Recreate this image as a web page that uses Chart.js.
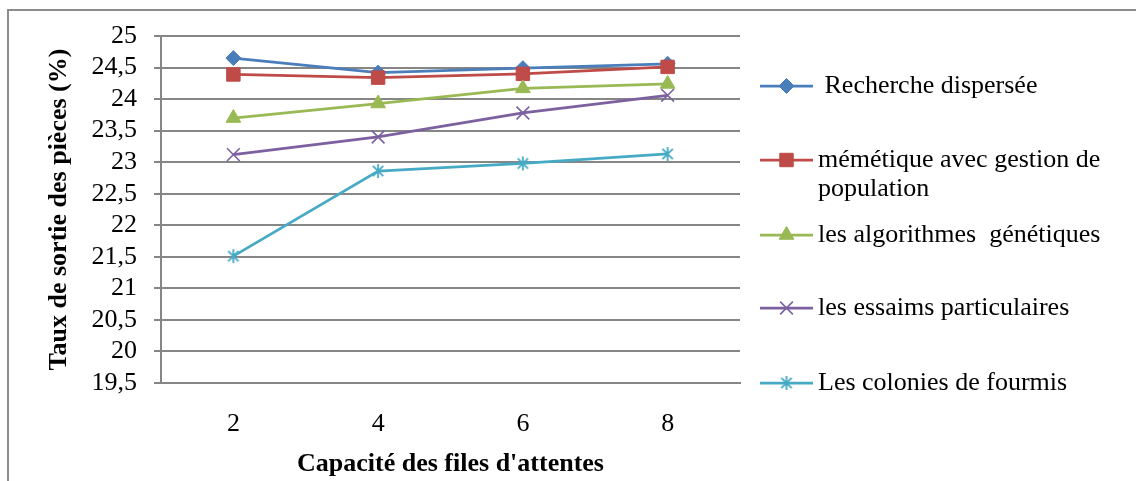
<!DOCTYPE html>
<html>
<head>
<meta charset="utf-8">
<script src="https://cdn.jsdelivr.net/npm/chart.js@4/dist/chart.umd.min.js"></script>
<style>
  html, body { margin: 0; padding: 0; background: #ffffff; }
  canvas { display: block; }
</style>
</head>
<body>
<canvas id="chart" width="1136" height="481"></canvas>
<script>
// Capacité des files d'attente (x) and exit rate of parts in % (y)
const categories = ['2', '4', '6', '8'];
const yTickLabels = ['19,5', '20', '20,5', '21', '21,5', '22', '22,5', '23', '23,5', '24', '24,5', '25'];

const seriesNames = [
  ' Recherche dispersée',
  ['mémétique avec gestion de', 'population'],
  'les algorithmes  génétiques',
  'les essaims particulaires',
  'Les colonies de fourmis'
];

const rechercheDispersee = [24.65, 24.42, 24.49, 24.56];
const memetiquePopulation = [24.39, 24.34, 24.40, 24.51];
const algorithmesGenetiques = [23.70, 23.93, 24.17, 24.24];
const essaimsParticulaires = [23.12, 23.40, 23.78, 24.06];
const coloniesFourmis = [21.51, 22.86, 22.98, 23.13];

const GRID = '#868686';
const SERIF = '"Liberation Serif", "Times New Roman", serif';

// Asterisk marker: one vertical stroke plus two diagonals
function makeAsterisk(color) {
  const s = 18, c = document.createElement('canvas');
  c.width = s; c.height = s;
  const g = c.getContext('2d');
  g.strokeStyle = color;
  g.lineWidth = 1.8;
  g.lineCap = 'butt';
  const m = s / 2, r = 7, d = 5.2;
  g.beginPath();
  g.moveTo(m, m - r); g.lineTo(m, m + r);
  g.moveTo(m - d, m - d); g.lineTo(m + d, m + d);
  g.moveTo(m + d, m - d); g.lineTo(m - d, m + d);
  g.stroke();
  return c;
}

const colors = ['#4a7ebb', '#be4b48', '#98b954', '#7d60a0', '#46aac5'];
const markers = [
  { style: 'rectRot', radius: 7.5, border: 1 },
  { style: 'rect', radius: 9.5, border: 1 },
  { style: 'triangle', radius: 8.5, border: 1 },
  { style: 'crossRot', radius: 9, border: 1.6 },
  { style: makeAsterisk(colors[4]), radius: 9, border: 1 }
];
const seriesValues = [rechercheDispersee, memetiquePopulation, algorithmesGenetiques, essaimsParticulaires, coloniesFourmis];

const datasets = seriesValues.map((vals, i) => ({
  label: Array.isArray(seriesNames[i]) ? seriesNames[i].join(' ') : seriesNames[i],
  data: vals,
  borderColor: colors[i],
  backgroundColor: colors[i],
  borderWidth: 2.75,
  tension: 0,
  pointStyle: markers[i].style,
  pointRadius: markers[i].radius,
  pointHoverRadius: markers[i].radius,
  pointBorderWidth: markers[i].border,
  pointBackgroundColor: colors[i],
  pointBorderColor: colors[i],
  order: seriesValues.length - i,
  clip: false
}));

// Thin frame along the top and left edges of the picture
const framePlugin = {
  id: 'frame',
  beforeDraw(chart) {
    const ctx = chart.ctx;
    ctx.save();
    ctx.strokeStyle = '#8c8c8c';
    ctx.lineWidth = 2;
    ctx.beginPath();
    ctx.moveTo(8, 481); ctx.lineTo(8, 10); ctx.lineTo(1136, 10);
    ctx.stroke();
    ctx.restore();
  }
};

// Legend on the right: line sample with marker, then the series name
const sideLegend = {
  id: 'sideLegend',
  afterDraw(chart) {
    const ctx = chart.ctx;
    const rows = [86, 160, 235, 308, 383];
    const x0 = 760, x1 = 813, xm = 786.5, xt = 818;
    ctx.save();
    chart.data.datasets.forEach((ds, i) => {
      const y = rows[i];
      ctx.strokeStyle = ds.borderColor;
      ctx.lineWidth = 2.75;
      ctx.beginPath();
      ctx.moveTo(x0, y); ctx.lineTo(x1, y);
      ctx.stroke();
      ctx.fillStyle = ds.pointBackgroundColor;
      ctx.strokeStyle = ds.pointBorderColor;
      ctx.lineWidth = ds.pointBorderWidth;
      Chart.helpers.drawPoint(ctx, {
        pointStyle: ds.pointStyle,
        radius: ds.pointRadius,
        rotation: 0,
        borderWidth: ds.pointBorderWidth
      }, xm, y);
      ctx.fillStyle = '#000000';
      ctx.font = '26px ' + SERIF;
      ctx.textBaseline = 'middle';
      ctx.textAlign = 'left';
      const lines = Array.isArray(seriesNames[i]) ? seriesNames[i] : [seriesNames[i]];
      lines.forEach((t, k) => ctx.fillText(t, xt, y + k * 29));
    });
    ctx.restore();
  }
};

new Chart(document.getElementById('chart'), {
  type: 'line',
  data: { labels: categories, datasets },
  plugins: [framePlugin, sideLegend],
  options: {
    responsive: false,
    animation: false,
    devicePixelRatio: 1,
    layout: { padding: { left: 36, top: 36, right: 396, bottom: 0 } },
    plugins: {
      legend: { display: false },
      tooltip: { enabled: false }
    },
    scales: {
      x: {
        type: 'category',
        offset: true,
        grid: { display: false, drawTicks: false },
        border: { display: true, color: GRID, width: 2 },
        ticks: {
          color: '#000000',
          font: { family: SERIF, size: 26 },
          padding: 26,
          maxRotation: 0
        },
        title: {
          display: true,
          text: "Capacité des files d'attentes",
          color: '#000000',
          font: { family: SERIF, size: 26, weight: 'bold' },
          padding: { top: 0, bottom: 1 }
        },
        afterFit(scale) { scale.height = 98; }
      },
      y: {
        min: 19.5,
        max: 25,
        grid: { color: GRID, lineWidth: 2, tickLength: 7, drawTicks: true },
        border: { display: true, color: GRID, width: 2 },
        ticks: {
          stepSize: 0.5,
          autoSkip: false,
          color: '#000000',
          font: { family: SERIF, size: 26 },
          padding: 17,
          callback: (v, i) => yTickLabels[i]
        },
        title: {
          display: true,
          text: 'Taux de sortie des pièces (%)',
          color: '#000000',
          font: { family: SERIF, size: 26, weight: 'bold' },
          padding: { top: 8, bottom: 0 }
        },
        afterFit(scale) { scale.width = 125; }
      }
    }
  }
});
</script>
</body>
</html>
